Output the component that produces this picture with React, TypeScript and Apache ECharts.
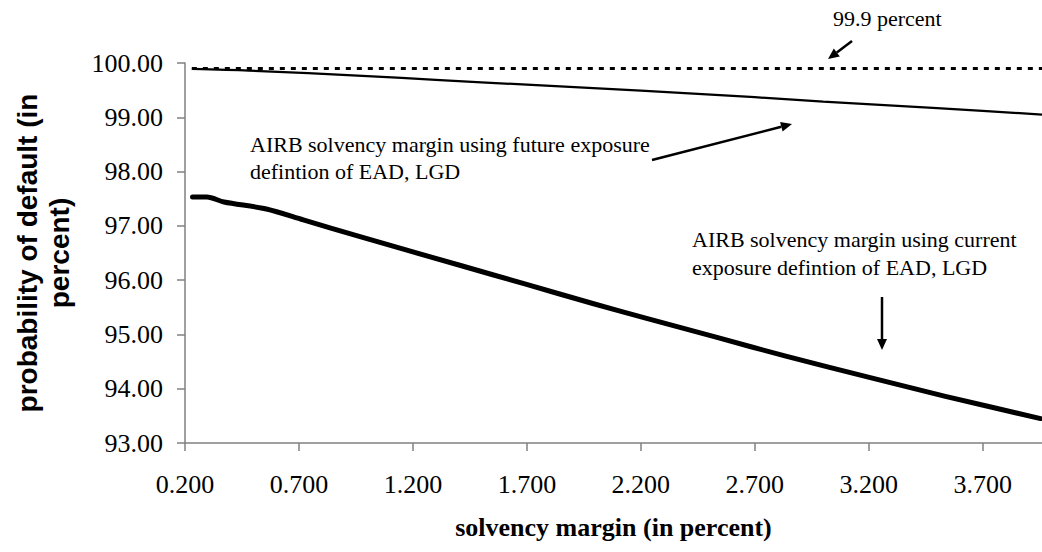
import React, { useEffect, useRef } from "react";
import * as echarts from "echarts";

const xTickLabels = ["0.200", "0.700", "1.200", "1.700", "2.200", "2.700", "3.200", "3.700"];
const yTickLabels = ["93.00", "94.00", "95.00", "96.00", "97.00", "98.00", "99.00", "100.00"];

const thresholdX = [0.23, 3.96];
const thresholdY = [99.9, 99.9];

const futureX = [0.23, 0.48, 1.0, 1.3, 1.7, 2.2, 2.7, 3.0, 3.5, 3.96];
const futureY = [99.89, 99.86, 99.76, 99.69, 99.6, 99.49, 99.37, 99.29, 99.17, 99.05];

const currentX = [0.233, 0.296, 0.371, 0.557, 0.719, 0.968, 1.417, 1.691, 1.989, 2.213, 2.538, 2.836, 3.211, 3.536, 3.954];
const currentY = [97.53, 97.53, 97.44, 97.31, 97.11, 96.8, 96.26, 95.93, 95.57, 95.31, 94.94, 94.6, 94.2, 93.86, 93.45];

const SERIF = "'Liberation Serif', 'Times New Roman', serif";
const SANS = "'Liberation Sans', Arial, sans-serif";

function pairs(xs: number[], ys: number[]) {
  return xs.map((x, i) => [x, ys[i]]);
}

function arrow(x1: number, y1: number, x2: number, y2: number) {
  const len = 11;
  const w = 5;
  const dx = x2 - x1;
  const dy = y2 - y1;
  const L = Math.hypot(dx, dy);
  const ux = dx / L;
  const uy = dy / L;
  const bx = x2 - ux * len;
  const by = y2 - uy * len;
  const px = -uy;
  const py = ux;
  return [
    {
      type: "line",
      shape: { x1, y1, x2: bx, y2: by },
      style: { stroke: "#000", lineWidth: 2.5 },
      silent: true,
    },
    {
      type: "polygon",
      shape: {
        points: [
          [x2, y2],
          [bx + px * w, by + py * w],
          [bx - px * w, by - py * w],
        ],
      },
      style: { fill: "#000" },
      silent: true,
    },
  ];
}

function text(x: number, y: number, t: string, lh: number) {
  return {
    type: "text",
    x,
    y,
    style: {
      text: t,
      fontFamily: SERIF,
      fontSize: 22,
      lineHeight: lh,
      fill: "#000",
      verticalAlign: "top",
      align: "left",
    },
    silent: true,
  };
}

export default function App() {
  const ref = useRef<HTMLDivElement>(null);
  useEffect(() => {
    if (!ref.current) return;
    const chart = echarts.init(ref.current, undefined, { renderer: "svg" });
    const axisGrey = "#808080";
    chart.setOption({
      animation: false,
      backgroundColor: "#fff",
      grid: { left: 185, right: 0, top: 63, bottom: 109, containLabel: false },
      xAxis: {
        type: "value",
        min: 0.2,
        max: 3.96,
        interval: 0.5,
        name: "solvency margin (in percent)",
        nameLocation: "middle",
        nameGap: 71,
        nameTextStyle: { fontFamily: SERIF, fontWeight: "bold", fontSize: 26, color: "#000" },
        axisLine: { show: true, lineStyle: { color: axisGrey, width: 1.5 } },
        axisTick: { show: true, length: 8, inside: false, lineStyle: { color: axisGrey, width: 1.5 } },
        axisLabel: {
          fontFamily: SERIF,
          fontSize: 26,
          color: "#000",
          margin: 28,
          showMaxLabel: false,
          formatter: (v: number) => {
            const s = v.toFixed(3);
            return xTickLabels.indexOf(s) >= 0 ? s : "";
          },
        },
        splitLine: { show: false },
      },
      yAxis: {
        type: "value",
        min: 93,
        max: 100,
        interval: 1,
        name: "probability of default (in\npercent)",
        nameLocation: "middle",
        nameGap: 110,
        nameRotate: 90,
        nameTextStyle: { fontFamily: SANS, fontWeight: "bold", fontSize: 28, lineHeight: 32, color: "#000", align: "center" },
        axisLine: { show: true, lineStyle: { color: axisGrey, width: 1.5 } },
        axisTick: { show: true, length: 8, inside: false, lineStyle: { color: axisGrey, width: 1.5 } },
        axisLabel: {
          fontFamily: SERIF,
          fontSize: 26,
          color: "#000",
          margin: 22,
          formatter: (v: number) => {
            const s = v.toFixed(2);
            return yTickLabels.indexOf(s) >= 0 ? s : "";
          },
        },
        splitLine: { show: false },
      },
      series: [
        {
          type: "line",
          data: pairs(thresholdX, thresholdY),
          symbol: "none",
          lineStyle: { color: "#000", width: 3, type: [5, 6] },
        },
        {
          type: "line",
          data: pairs(futureX, futureY),
          symbol: "none",
          smooth: 0.3,
          lineStyle: { color: "#000", width: 2.2 },
        },
        {
          type: "line",
          data: pairs(currentX, currentY),
          symbol: "none",
          smooth: 0.3,
          lineStyle: { color: "#000", width: 5, cap: "round", join: "round" },
        },
      ],
      graphic: [
        text(833, 4, "99.9 percent", 28),
        ...arrow(852, 41, 828, 59),
        text(250, 131, "AIRB solvency margin using future exposure\ndefintion of EAD, LGD", 27),
        ...arrow(652, 160, 792, 124),
        text(692, 225, "AIRB solvency margin using current\nexposure defintion of EAD, LGD", 28),
        ...arrow(882, 297, 882, 350),
      ],
    });
    return () => chart.dispose();
  }, []);
  return (
    <div
      ref={ref}
      style={{ position: "fixed", left: 0, top: 0, width: 1042, height: 552 }}
    />
  );
}
